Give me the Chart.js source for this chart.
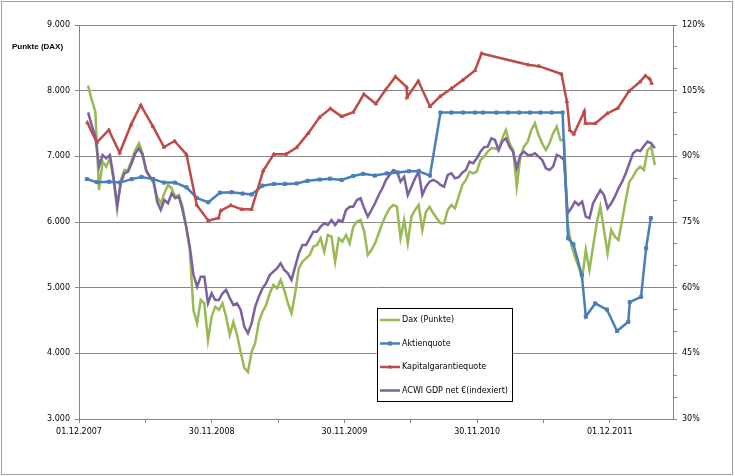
<!DOCTYPE html>
<html>
<head>
<meta charset="utf-8">
<script src="https://cdn.jsdelivr.net/npm/chart.js@4.4.0/dist/chart.umd.min.js"></script>
<style>
html, body { margin: 0; padding: 0; background: #fff; }
#wrap { width: 735px; height: 476px; }
</style>
</head>
<body>
<div id="wrap"><canvas id="myChart" width="735" height="476"></canvas></div>
<script>
// x axis: days since 01.12.2007, labels every 365.25 days like the Excel axis
const axisStart = '2007-12-01';
const axisDays = 1635;
const xTickLabels = ['01.12.2007', '30.11.2008', '30.11.2009', '30.11.2010', '01.12.2011'];

// DAX and ACWI read every 10 days starting 26.12.2007
const denseStart = '2007-12-26';
const denseStepDays = 10;

const daxValues = [
  8076, 7858, 7680, 6487, 6919, 6843, 6970, 6640, 6200, 6640,
  6792, 6792, 6944, 7096, 7198, 7046, 6767, 6690, 6590, 6386,
  6285, 6437, 6564, 6513, 6386, 6411, 6233, 5929, 5574, 4660,
  4457, 4812, 4762, 4203, 4558, 4711, 4660, 4762, 4558, 4279,
  4477, 4279, 4020, 3777, 3716, 4020, 4157, 4477, 4630, 4736,
  4914, 5041, 4990, 5117, 4965, 4762, 4610, 4914, 5295, 5396,
  5447, 5498, 5624, 5650, 5752, 5548, 5802, 5777, 5396, 5752,
  5701, 5802, 5675, 5929, 6005, 6030, 5853, 5498, 5574, 5675,
  5828, 5980, 6107, 6208, 6259, 6233, 5752, 6030, 5675, 6081,
  6183, 6259, 5878, 6157, 6233, 6133, 6056, 5980, 5980, 6183,
  6259, 6208, 6386, 6564, 6640, 6767, 6742, 6767, 6944, 6995,
  7071, 7122, 7122, 7096, 7274, 7401, 7198, 7096, 6538, 6995,
  7148, 7224, 7401, 7503, 7325, 7198, 7096, 7198, 7351, 7452,
  7249, 7249, 5980, 5650, 5472, 5320, 5143, 5574, 5269, 5624,
  5980, 6233, 5878, 5523, 5878, 5777, 5726, 6030, 6335, 6614,
  6690, 6792, 6843, 6792, 7096, 7148, 6868
];

const acwiValues = [
  7670, 7477, 7300, 6843, 7020, 6970, 7020, 6690, 6250, 6590,
  6742, 6767, 6894, 7046, 7122, 7020, 6792, 6690, 6640, 6310,
  6183, 6335, 6285, 6437, 6361, 6386, 6183, 5929, 5624, 5200,
  5015, 5168, 5168, 4762, 4914, 4812, 4812, 4914, 4965, 4843,
  4736, 4762, 4660, 4406, 4305, 4457, 4711, 4863, 4990, 5066,
  5193, 5244, 5295, 5371, 5269, 5219, 5117, 5320, 5523, 5650,
  5650, 5752, 5853, 5853, 5929, 5980, 5954, 6030, 5954, 6030,
  6005, 6183, 6233, 6233, 6335, 6361, 6208, 6081, 6183, 6285,
  6411, 6513, 6640, 6716, 6792, 6767, 6614, 6690, 6411, 6538,
  6665, 6767, 6411, 6538, 6614, 6640, 6614, 6564, 6538, 6716,
  6742, 6665, 6681, 6751, 6792, 6919, 6894, 6970, 7071, 7138,
  7148, 7274, 7249, 7096, 7224, 7274, 7148, 7071, 6818, 7020,
  7071, 7020, 7020, 7046, 6995, 6944, 6818, 6792, 6843, 7020,
  6995, 6944, 6133, 6208, 6310, 6259, 6310, 6081, 6056, 6285,
  6386, 6487, 6411, 6208, 6285, 6386, 6513, 6614, 6742, 6894,
  7046, 7096, 7081, 7157, 7224, 7198, 7122
];

// Aktienquote in % (right axis)
const aktienDates = [
  '2007-12-23', '2008-01-19', '2008-02-22', '2008-03-23', '2008-04-24', '2008-05-21', '2008-06-22',
  '2008-07-22', '2008-08-21', '2008-09-22', '2008-10-20', '2008-11-21', '2008-12-23',
  '2009-01-24', '2009-02-23', '2009-03-20', '2009-04-19', '2009-05-20', '2009-06-20', '2009-07-22',
  '2009-08-21', '2009-09-24', '2009-10-22', '2009-11-23', '2009-12-25',
  '2010-01-21', '2010-02-22', '2010-03-27', '2010-04-27', '2010-05-27', '2010-06-23', '2010-07-24',
  '2010-08-22', '2010-09-21', '2010-10-23', '2010-11-25', '2010-12-17',
  '2011-01-23', '2011-02-24', '2011-03-26', '2011-04-25', '2011-05-24', '2011-06-24', '2011-07-24',
  '2011-08-08', '2011-08-23', '2011-09-15', '2011-09-26', '2011-10-22', '2011-11-23', '2011-12-21',
  '2012-01-21', '2012-01-25', '2012-02-25', '2012-03-10', '2012-03-23'
];
const aktienValues = [
  84.8, 84.1, 84.2, 84.0, 84.8, 85.3, 84.8,
  84.0, 84.0, 82.9, 80.5, 79.5, 81.7,
  81.8, 81.5, 81.3, 83.3, 83.7, 83.7, 83.8,
  84.4, 84.7, 84.9, 84.6, 85.5,
  86.0, 85.6, 86.1, 86.3, 86.6, 86.6, 85.6,
  100, 100, 100, 100, 100,
  100, 100, 100, 100, 100, 100, 100,
  71.3, 69.9, 62.9, 53.4, 56.4, 55.0, 50.1,
  52.2, 56.7, 57.9, 69.0, 75.9
];

// Kapitalgarantiequote in % (right axis)
const kapitalDates = [
  '2007-12-24', '2008-01-19', '2008-02-21', '2008-03-22', '2008-04-22', '2008-05-19', '2008-06-21',
  '2008-07-22', '2008-08-20', '2008-09-22', '2008-10-20', '2008-11-21', '2008-12-19', '2008-12-25',
  '2009-01-22', '2009-02-21', '2009-03-20', '2009-04-21', '2009-05-20', '2009-06-23', '2009-07-22',
  '2009-08-23', '2009-09-23', '2009-10-23', '2009-11-23', '2009-12-25',
  '2010-01-23', '2010-02-25', '2010-03-24', '2010-04-20', '2010-05-21', '2010-05-22', '2010-06-22',
  '2010-07-24', '2010-08-21', '2010-09-21', '2010-10-22', '2010-11-25', '2010-12-13',
  '2011-04-20', '2011-05-20', '2011-07-21', '2011-08-05', '2011-08-13', '2011-08-24', '2011-09-22',
  '2011-09-25', '2011-10-22', '2011-11-24', '2011-12-23',
  '2012-01-23', '2012-02-22', '2012-03-08', '2012-03-20', '2012-03-25'
];
const kapitalValues = [
  97.7, 93.2, 96.0, 90.8, 97.2, 101.7, 96.9,
  92.1, 93.5, 90.4, 78.9, 75.3, 75.9, 77.6,
  78.8, 77.9, 77.9, 86.7, 90.5, 90.5, 92.0,
  95.3, 98.9, 100.9, 99.1, 100.1,
  104.2, 102.0, 105.2, 108.2, 105.8, 103.5, 107.2,
  101.4, 103.7, 105.5, 107.4, 109.6, 113.5,
  110.9, 110.6, 108.8, 102.5, 96.0, 95.1, 100.3,
  97.5, 97.5, 99.8, 101.0,
  104.9, 107.0, 108.4, 107.7, 106.7
];

function dayOffset(s) {
  var a = s.split('-');
  var b = axisStart.split('-');
  return (Date.UTC(+a[0], +a[1] - 1, +a[2]) - Date.UTC(+b[0], +b[1] - 1, +b[2])) / 86400000;
}

var denseX0 = dayOffset(denseStart);
var daxPoints = daxValues.map((v, i) => ({ x: denseX0 + i * denseStepDays, y: v }));
var acwiPoints = acwiValues.map((v, i) => ({ x: denseX0 + i * denseStepDays, y: v }));
var aktienPoints = aktienDates.map((d, i) => ({ x: dayOffset(d), y: aktienValues[i] }));
var kapitalPoints = kapitalDates.map((d, i) => ({ x: dayOffset(d), y: kapitalValues[i] }));

const gridGray = '#868686';

// white background, outer frame, axis title and the boxed legend
const frame = {
  id: 'frame',
  beforeDraw(chart) {
    const c = chart.ctx;
    c.save();
    c.fillStyle = '#fff';
    c.fillRect(0, 0, chart.width, chart.height);
    c.strokeStyle = '#a0a0a0';
    c.lineWidth = 1;
    c.strokeRect(1.5, 1.5, 731, 473);
    c.fillStyle = '#000';
    c.font = 'bold 8px "Liberation Sans", Arial, sans-serif';
    c.textBaseline = 'middle';
    c.textAlign = 'left';
    c.fillText('Punkte (DAX)', 12, 47);
    c.restore();
  },
  afterDraw(chart) {
    const c = chart.ctx;
    c.save();
    c.fillStyle = '#fff';
    c.fillRect(377.5, 308.5, 135, 93);
    c.strokeStyle = '#000';
    c.lineWidth = 1;
    c.strokeRect(377.5, 308.5, 135, 93);
    chart.data.datasets.forEach((ds, i) => {
      const y = 320 + i * 23.5;
      c.strokeStyle = ds.borderColor;
      c.lineWidth = 2.5;
      c.beginPath();
      c.moveTo(380, y);
      c.lineTo(400, y);
      c.stroke();
      if (ds.pointRadius > 0) {
        c.fillStyle = ds.borderColor;
        if (ds.pointStyle === 'rect') {
          c.fillRect(388, y - 2, 4, 4);
        } else {
          c.beginPath();
          c.moveTo(390, y - 2.5);
          c.lineTo(392.5, y + 1.5);
          c.lineTo(387.5, y + 1.5);
          c.closePath();
          c.fill();
        }
      }
      c.fillStyle = '#000';
      c.font = '8px "DejaVu Sans", sans-serif';
      c.textBaseline = 'middle';
      c.textAlign = 'left';
      c.fillText(ds.label, 402, y);
    });
    c.restore();
  }
};

Chart.defaults.font.family = '"DejaVu Sans", sans-serif';
Chart.defaults.font.size = 8;
Chart.defaults.color = '#000';

var ctx = document.getElementById('myChart').getContext('2d');
var myChart = new Chart(ctx, {
  type: 'line',
  data: {
    datasets: [
      {
        label: 'Dax (Punkte)',
        data: daxPoints,
        yAxisID: 'y',
        borderColor: '#98B954',
        borderWidth: 2.5,
        pointRadius: 0,
        tension: 0,
        order: 4
      },
      {
        label: 'Aktienquote',
        data: aktienPoints,
        yAxisID: 'y1',
        borderColor: '#4A7EBB',
        backgroundColor: '#4A7EBB',
        borderWidth: 2.5,
        pointStyle: 'rect',
        pointRadius: 2.2,
        pointBorderWidth: 1,
        tension: 0,
        order: 2
      },
      {
        label: 'Kapitalgarantiequote',
        data: kapitalPoints,
        yAxisID: 'y1',
        borderColor: '#BE4B48',
        backgroundColor: '#BE4B48',
        borderWidth: 2.5,
        pointStyle: 'triangle',
        pointRadius: 2,
        pointBorderWidth: 1,
        tension: 0,
        order: 1
      },
      {
        label: 'ACWI GDP net €(indexiert)',
        data: acwiPoints,
        yAxisID: 'y',
        borderColor: '#7D60A0',
        borderWidth: 2.5,
        pointRadius: 0,
        tension: 0,
        order: 3
      }
    ]
  },
  options: {
    responsive: false,
    animation: false,
    devicePixelRatio: 1,
    events: [],
    layout: { padding: { top: 25, left: 0, right: 0, bottom: 0 } },
    plugins: {
      legend: { display: false },
      tooltip: { enabled: false }
    },
    scales: {
      x: {
        type: 'linear',
        min: 0,
        max: axisDays,
        afterBuildTicks: (scale) => {
          var t = [];
          for (var k = 0; k <= 8; k++) t.push({ value: k * 182.625 });
          scale.ticks = t;
        },
        afterFit: (scale) => { scale.height = 57; },
        ticks: {
          autoSkip: false,
          maxRotation: 0,
          padding: 4,
          callback: (value, index) => (index % 2 === 0 ? xTickLabels[index / 2] : '')
        },
        grid: { drawOnChartArea: false, tickLength: 4, color: gridGray },
        border: { color: gridGray }
      },
      y: {
        position: 'left',
        min: 3000,
        max: 9000,
        afterFit: (scale) => { scale.width = 79; },
        ticks: {
          stepSize: 1000,
          padding: 5,
          callback: (v) => String(v).replace(/\B(?=(\d{3})+(?!\d))/g, '.')
        },
        grid: { color: gridGray, tickLength: 4 },
        border: { color: gridGray }
      },
      y1: {
        position: 'right',
        min: 30,
        max: 120,
        afterFit: (scale) => { scale.width = 62; },
        ticks: {
          stepSize: 5,
          autoSkip: false,
          padding: 5,
          callback: (v) => (v % 15 === 0 ? v + '%' : '')
        },
        grid: { drawOnChartArea: false, tickLength: 4, color: gridGray },
        border: { color: gridGray }
      }
    }
  },
  plugins: [frame]
});
</script>
</body>
</html>
